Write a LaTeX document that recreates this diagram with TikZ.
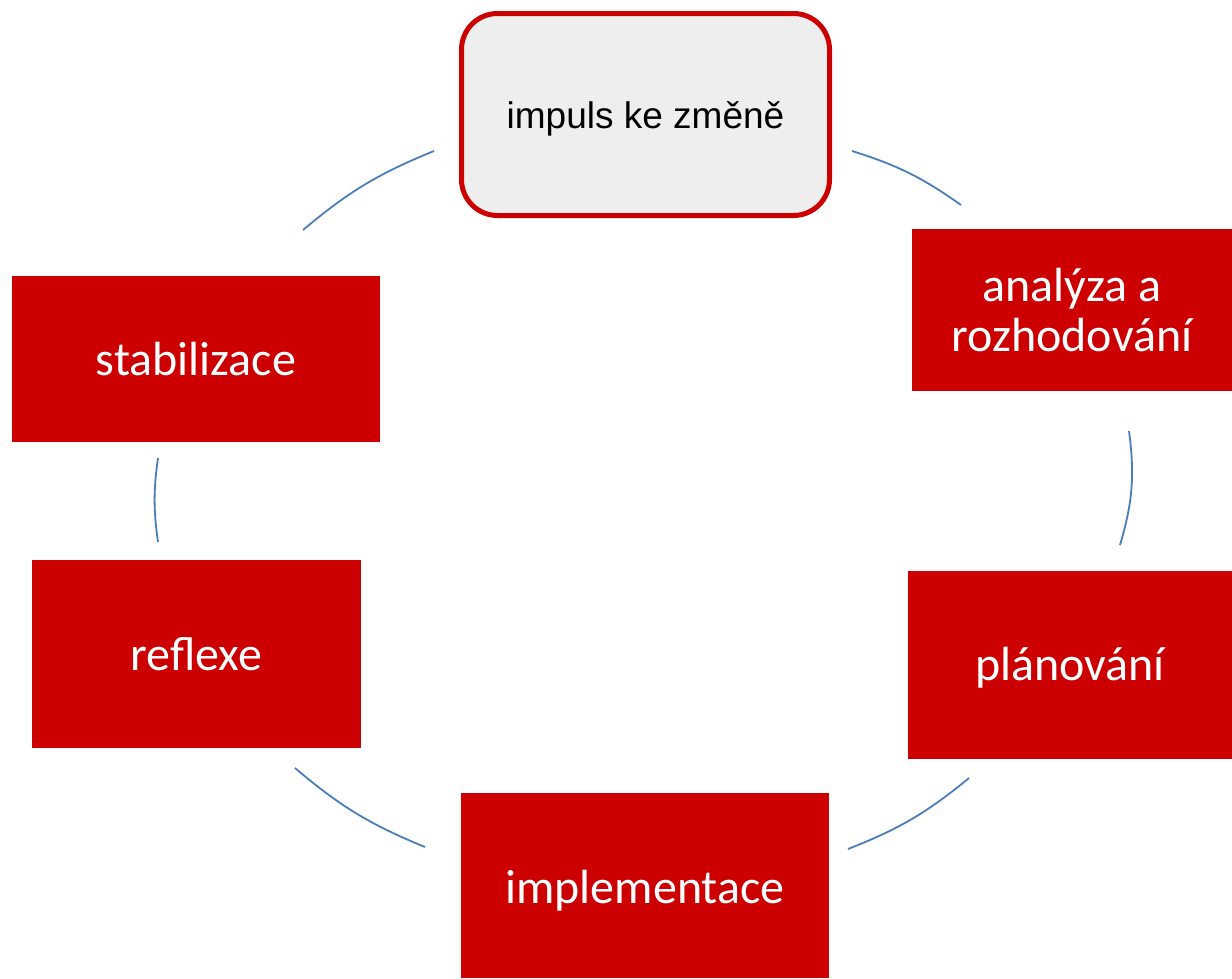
\documentclass[tikz,border=0pt]{standalone}
\usepackage{fontspec}
\newfontfamily\carl{Carlito}
\newfontfamily\arialf{Liberation Sans}
\definecolor{boxred}{HTML}{CC0000}
\definecolor{arcblue}{HTML}{4A7EBB}
\definecolor{boxgray}{HTML}{EEEEEE}
\newcommand{\lowerby}[2]{\raisebox{-#1}[\height][\depth]{#2}}
\begin{document}
\begin{tikzpicture}[x=1pt,y=-1pt,
  redbox/.style={fill=boxred, draw=none, inner sep=0pt, text=white, align=center,
    font=\carl\fontsize{48}{50}\selectfont},
  startbox/.style={fill=boxgray, draw=boxred, line width=5pt, rounded corners=36pt,
    inner sep=0pt, text=black, font=\arialf\fontsize{37}{40}\selectfont},
  arcline/.style={draw=arcblue, line width=1.8pt, bend left=9}]
\useasboundingbox (0,0) rectangle (1232,978);
\node[startbox, minimum width=368pt, minimum height=202pt] (imp) at (645.5,114.5) {\lowerby{4pt}{impuls ke změně}};
\node[redbox, minimum width=320pt, minimum height=162pt] (ana) at (1072,310) {analýza a\\rozhodování};
\node[redbox, minimum width=324pt, minimum height=188pt] (pla) at (1070,665) {\lowerby{3pt}{plánování}};
\node[redbox, minimum width=368pt, minimum height=185pt] (imple) at (645,885.5) {\lowerby{5pt}{implementace}};
\node[redbox, minimum width=329pt, minimum height=188pt] (ref) at (196.5,654) {reflexe};
\node[redbox, minimum width=368pt, minimum height=166pt] (sta) at (196,359) {stabilizace};
\coordinate (a1s) at (303,230); \coordinate (a1e) at (434,151);
\coordinate (a2s) at (852,151); \coordinate (a2e) at (961,205);
\coordinate (a3s) at (1129,431); \coordinate (a3e) at (1120,545);
\coordinate (a4s) at (969,778); \coordinate (a4e) at (848,849);
\coordinate (a5s) at (425,847); \coordinate (a5e) at (295,768);
\coordinate (a6s) at (158,542); \coordinate (a6e) at (158,458);
\draw[arcline] (a1s) to (a1e);
\draw[arcline] (a2s) to (a2e);
\draw[arcline, bend left=12] (a3s) to (a3e);
\draw[arcline] (a4s) to (a4e);
\draw[arcline] (a5s) to (a5e);
\draw[arcline, bend left=8] (a6s) to (a6e);
\end{tikzpicture}
\end{document}
